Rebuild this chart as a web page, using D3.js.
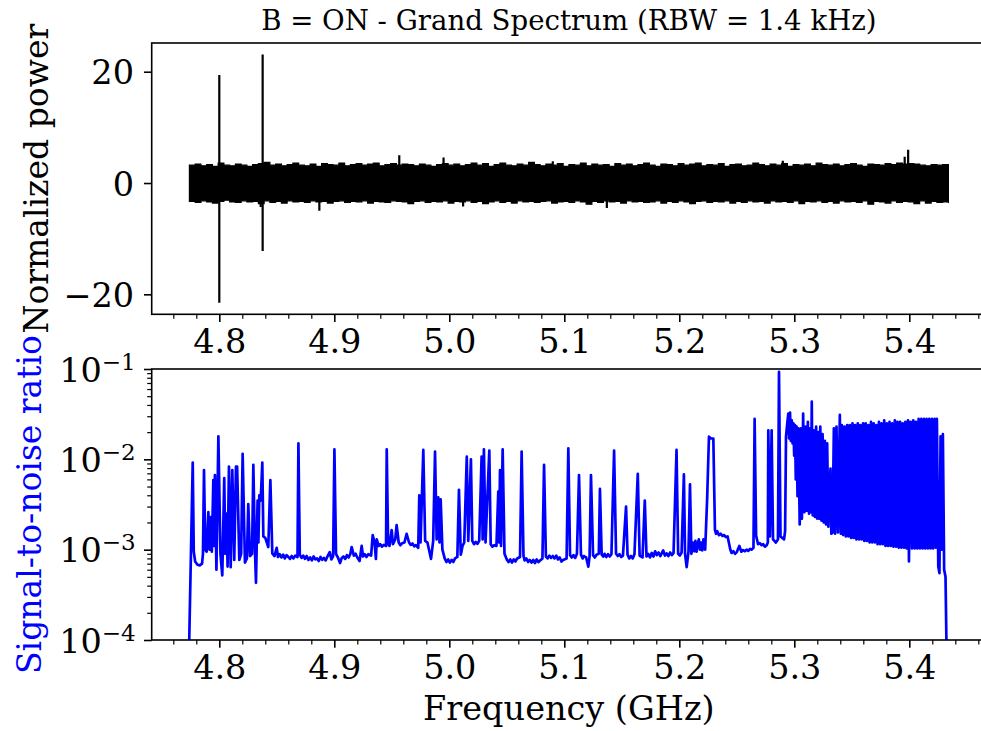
<!DOCTYPE html>
<html><head><meta charset="utf-8">
<script src="https://cdn.jsdelivr.net/npm/d3@7/dist/d3.min.js"></script>
<style>
body{margin:0;background:#fff;}
svg{display:block;font-family:"DejaVu Serif",serif;}
</style></head><body>
<svg id="chart" width="981" height="731"></svg>
<script>
// ---------- DATA ----------
const titleText = "B = ON - Grand Spectrum (RBW = 1.4 kHz)";
const xTicks = [4.8, 4.9, 5.0, 5.1, 5.2, 5.3, 5.4];
const xTickLabels = ["4.8", "4.9", "5.0", "5.1", "5.2", "5.3", "5.4"];
const xMinorTicks = [4.76,4.78,4.82,4.84,4.86,4.88,4.92,4.94,4.96,4.98,5.02,5.04,5.06,5.08,5.12,5.14,5.16,5.18,5.22,5.24,5.26,5.28,5.32,5.34,5.36,5.38,5.42,5.44,5.46];
const powerTicks = [-20, 0, 20];
const powerTickLabels = ["−20", "0", "20"];
const snrTicks = [1e-4, 1e-3, 1e-2, 1e-1];
const snrTickExp = ["−4", "−3", "−2", "−1"];

// top panel: noise band envelope (upper / lower) every 5 MHz from 4.774 GHz
const noiseStart = 4.774, noiseStep = 0.005;
const noiseUpper = [3.2,3.4,3.1,3.3,3.0,3.6,3.2,3.1,3.4,3.2,
  3.0,3.3,3.5,3.7,3.2,3.4,3.1,3.3,3.6,3.2,
  3.1,3.4,3.0,3.5,3.3,3.2,3.6,3.1,3.3,3.5,
  3.2,3.4,3.6,3.1,3.3,3.5,3.2,3.4,3.3,3.1,
  3.4,3.2,3.0,3.3,3.5,3.2,3.4,3.1,3.3,3.6,
  3.2,3.5,3.0,3.3,3.6,3.2,3.1,3.4,3.2,3.7,
  3.3,3.1,3.4,3.2,3.5,3.0,3.3,3.2,3.6,3.1,
  3.4,3.2,3.3,3.0,3.5,3.2,3.4,3.1,3.3,3.6,
  3.2,3.0,3.4,3.3,3.1,3.5,3.2,3.4,3.6,3.1,
  3.3,3.2,3.5,3.0,3.3,3.4,3.1,3.2,3.6,3.3,
  3.1,3.4,3.2,3.5,3.0,3.3,3.2,3.4,3.1,3.6,
  3.3,3.2,3.4,3.1,3.3,3.5,3.2,3.0,3.4,3.3,
  3.2,3.5,3.3,3.6,3.4,3.5,3.4,3.2,3.1,3.3,
  3.2,3.3,3.1];
const noiseLower = [-3.3,-3.5,-3.2,-3.4,-3.6,-3.3,-3.1,-3.4,-3.5,-3.2,
  -3.4,-3.3,-3.7,-3.2,-3.5,-3.3,-3.6,-3.2,-3.4,-3.3,
  -3.5,-3.2,-3.4,-3.3,-3.6,-3.3,-3.2,-3.5,-3.3,-3.4,
  -3.2,-3.6,-3.3,-3.4,-3.5,-3.2,-3.3,-3.4,-3.7,-3.3,
  -3.2,-3.5,-3.3,-3.4,-3.2,-3.6,-3.3,-3.4,-3.2,-3.5,
  -3.3,-3.7,-3.4,-3.2,-3.5,-3.3,-3.6,-3.2,-3.4,-3.3,
  -3.5,-3.3,-3.2,-3.6,-3.4,-3.3,-3.5,-3.2,-3.4,-3.8,
  -3.3,-3.5,-3.2,-3.4,-3.3,-3.6,-3.2,-3.4,-3.3,-3.5,
  -3.4,-3.2,-3.6,-3.3,-3.5,-3.2,-3.4,-3.7,-3.3,-3.2,
  -3.5,-3.3,-3.4,-3.2,-3.6,-3.3,-3.5,-3.2,-3.4,-3.3,
  -3.6,-3.2,-3.4,-3.3,-3.5,-3.2,-3.7,-3.3,-3.4,-3.2,
  -3.5,-3.3,-3.6,-3.2,-3.4,-3.3,-3.5,-3.2,-3.8,-3.3,
  -3.4,-3.6,-3.2,-3.5,-3.3,-3.4,-3.7,-3.2,-3.6,-3.3,
  -3.5,-3.4,-3.6];
// isolated spikes in the top panel
const spikeFreq = [4.8000, 4.8377, 4.9565, 4.9950, 5.3960, 5.3990, 4.8870, 5.1370, 5.0120, 4.8360, 5.0900, 5.2900];
const spikeHi   = [19.4,   23.1,   5.0,    4.6,    4.7,    6.0,    0,      0,      0,      0,      3.9,    4.0];
const spikeLo   = [-21.5, -12.2,   0,      0,      0,      0,     -5.0,   -4.5,   -4.2,   -4.3,    0,      0];

// bottom panel: signal-to-noise ratio
const snrLow = [
 [4.7734,5e-5],[4.7769,9.2e-3],[4.7778,9.5e-4],[4.7790,7.4e-4],[4.7810,6.8e-4],[4.7830,6.7e-4],[4.7850,7.0e-4],
 [4.7858,9.0e-4],[4.7867,7.6e-3],[4.7878,1.0e-3],[4.7890,9.5e-4],[4.7905,2.6e-3],[4.7915,1.0e-3],[4.7925,2.3e-3],
 [4.7935,9.5e-4],[4.7948,5.9e-3],[4.7955,1.1e-3],[4.7962,6.7e-3],[4.7975,6.0e-4],[4.7992,1.8e-2],[4.8010,9.0e-4],
 [4.8026,5.2e-4],[4.8043,6.2e-3],[4.8052,9.0e-4],[4.8064,2.5e-3],[4.8072,6.5e-4],[4.8084,8.3e-3],[4.8099,6.4e-4],
 [4.8113,7.6e-3],[4.8130,7.7e-4],[4.8145,8.3e-3],[4.8155,8.3e-3],[4.8174,7.7e-4],[4.8190,9.0e-4],[4.8203,1.15e-2],
 [4.8223,7.2e-4],[4.8240,8.0e-4],[4.8252,3.2e-3],[4.8267,8.5e-4],[4.8285,9.0e-4],[4.8296,8.7e-3],[4.8310,1.0e-3],
 [4.8319,4.3e-4],[4.8333,3.5e-3],[4.8340,1.2e-3],[4.8348,4.0e-3],[4.8360,3.5e-3],[4.8374,9.2e-3],[4.8383,1.4e-3],
 [4.8400,1.35e-3],[4.8426,1.07e-3],[4.8444,5.9e-3],[4.8461,9.1e-4],[4.8480,8.5e-4],[4.8499,1.05e-3],[4.8510,8.3e-4],
 [4.8525,8.9e-4],[4.8540,8.2e-4],[4.8555,8.8e-4],[4.8570,8.0e-4],[4.8585,8.7e-4],[4.8600,8.3e-4],[4.8615,7.9e-4],
 [4.8630,8.5e-4],[4.8645,8.0e-4],[4.8660,8.6e-4],[4.8680,8.3e-4],[4.8688,1.5e-2],
 [4.8700,8.8e-4],[4.8715,8.1e-4],[4.8730,8.6e-4],[4.8745,7.9e-4],[4.8760,8.5e-4],[4.8775,7.7e-4],[4.8790,8.2e-4],
 [4.8805,7.6e-4],[4.8820,8.4e-4],[4.8835,7.8e-4],[4.8850,8.0e-4],[4.8865,7.5e-4],[4.8880,8.3e-4],[4.8895,7.7e-4],
 [4.8910,8.1e-4],[4.8925,7.6e-4],[4.8940,8.4e-4],[4.8960,9.4e-4],[4.8975,7.8e-4],[4.8990,8.5e-4],[4.9001,1.29e-2],[4.9015,9.0e-4],
 [4.9035,8.0e-4],[4.9050,7.1e-4],[4.9065,8.1e-4],[4.9080,8.4e-4],[4.9095,7.9e-4],[4.9110,8.7e-4],[4.9125,8.2e-4],[4.9140,9.0e-4],
 [4.9151,1.07e-3],[4.9170,8.6e-4],[4.9185,9.0e-4],[4.9200,8.2e-4],[4.9220,7.5e-4],[4.9238,1.1e-3],[4.9250,8.4e-4],[4.9265,8.9e-4],
 [4.9280,8.3e-4],[4.9295,8.9e-4],[4.9320,8.6e-4],[4.9334,1.45e-3],[4.9350,1.2e-3],
 [4.9362,7.9e-4],[4.9369,1.3e-3],[4.9385,1.1e-3],[4.9400,1.15e-3],[4.9415,1.08e-3],[4.9430,1.13e-3],[4.9450,1.1e-3],[4.9456,1.29e-2],[4.9468,1.15e-3],
 [4.9480,1.1e-3],[4.9499,1.65e-3],[4.9510,1.15e-3],[4.9530,1.3e-3],[4.9542,1.87e-3],[4.9560,1.2e-3],[4.9575,1.12e-3],[4.9590,1.18e-3],
 [4.9610,1.2e-3],[4.9629,1.5e-3],[4.9650,1.2e-3],[4.9665,1.13e-3],[4.9680,1.17e-3],[4.9695,1.09e-3],[4.9710,1.12e-3],[4.9730,1.05e-3],[4.9739,4.0e-3],
 [4.9750,1.2e-3],[4.9774,1.27e-2],[4.9790,1.25e-3],[4.9810,1.2e-3],[4.9841,7.9e-4],[4.9860,1.25e-3],[4.9876,1.22e-2],
 [4.9890,1.3e-3],[4.9904,3.8e-3],[4.9915,1.2e-3],[4.9925,3.6e-3],[4.9940,1.0e-3],[4.9960,8.0e-4],[4.9975,7.3e-4],[4.9990,7.8e-4],
 [5.0005,7.2e-4],[5.0020,7.7e-4],[5.0035,7.3e-4],[5.0050,8.0e-4],[5.0070,8.3e-4],[5.0084,4.6e-3],[5.0100,8.8e-4],[5.0115,1.1e-3],[5.0130,1.2e-3],[5.0152,1.07e-2],
 [5.0165,1.25e-3],[5.0188,1.0e-2],[5.0200,1.25e-3],[5.0215,1.15e-3],[5.0230,1.22e-3],[5.0245,1.16e-3],[5.0260,1.25e-3],[5.0281,1.07e-2],[5.0290,1.3e-3],
 [5.0301,1.29e-2],[5.0315,1.2e-3],[5.0348,1.25e-2],[5.0360,1.15e-3],[5.0375,1.08e-3],[5.0390,1.12e-3],[5.0410,1.1e-3],[5.0426,4.4e-3],
 [5.0433,1.2e-3],[5.0441,7.6e-3],[5.0450,1.1e-3],[5.0464,1.29e-2],[5.0480,9.0e-4],[5.0500,7.8e-4],[5.0515,7.3e-4],[5.0530,7.8e-4],
 [5.0545,7.2e-4],[5.0560,7.8e-4],[5.0575,7.4e-4],[5.0590,8.0e-4],[5.0615,8.3e-4],[5.0629,1.22e-2],[5.0645,8.6e-4],[5.0655,7.6e-4],[5.0670,8.0e-4],[5.0685,7.3e-4],[5.0700,7.7e-4],
 [5.0715,7.2e-4],[5.0730,7.7e-4],[5.0745,7.1e-4],[5.0760,7.8e-4],[5.0775,7.3e-4],[5.0790,7.6e-4],[5.0810,8.0e-4],[5.0824,8.7e-3],[5.0840,8.4e-4],[5.0855,8.0e-4],[5.0870,8.6e-4],
 [5.0885,8.1e-4],[5.0900,8.5e-4],[5.0915,8.0e-4],[5.0930,8.6e-4],[5.0945,7.8e-4],[5.0960,8.2e-4],[5.0975,7.4e-4],[5.0990,7.7e-4],[5.1020,8.0e-4],[5.1035,1.32e-2],[5.1050,8.7e-4],
 [5.1065,8.2e-4],[5.1080,8.7e-4],[5.1095,8.1e-4],[5.1110,9.0e-4],[5.1128,6.7e-3],[5.1145,8.8e-4],[5.1160,8.0e-4],[5.1170,8.5e-4],[5.1190,8.2e-4],[5.1209,6.5e-4],
 [5.1220,8.5e-4],[5.1232,6.7e-3],[5.1250,8.7e-4],[5.1265,8.2e-4],[5.1280,8.8e-4],[5.1300,9.0e-4],[5.1310,4.7e-3],[5.1325,8.8e-4],
 [5.1340,8.4e-4],[5.1350,9.0e-4],[5.1365,8.3e-4],[5.1380,8.9e-4],[5.1395,8.4e-4],[5.1410,8.9e-4],[5.1433,1.25e-2],[5.1450,9.0e-4],[5.1465,8.5e-4],[5.1480,8.9e-4],[5.1495,8.3e-4],[5.1510,8.6e-4],
 [5.1537,3.0e-3],[5.1550,8.8e-4],[5.1565,8.0e-4],[5.1580,8.5e-4],[5.1595,8.0e-4],[5.1610,8.9e-4],[5.1639,6.9e-3],[5.1655,8.6e-4],[5.1680,8.2e-4],
 [5.1700,3.5e-3],[5.1715,8.4e-4],[5.1730,9.0e-4],[5.1745,8.2e-4],[5.1760,9.2e-4],[5.1775,8.4e-4],[5.1790,9.6e-4],[5.1805,8.7e-4],[5.1820,9.3e-4],[5.1835,8.5e-4],[5.1860,9.8e-4],
 [5.1875,8.6e-4],[5.1890,9.1e-4],[5.1905,8.5e-4],[5.1920,9.3e-4],[5.1935,8.7e-4],[5.1950,9.2e-4],[5.1976,1.27e-2],[5.1990,9.0e-4],[5.2005,8.6e-4],[5.2020,9.3e-4],[5.2040,6.8e-3],
 [5.2050,9.0e-4],[5.2064,6.4e-4],[5.2080,9.5e-4],[5.2093,5.3e-3],[5.2105,9.0e-4],[5.2118,1.2e-3],[5.2130,9.6e-4],[5.2140,1.25e-3],[5.2150,9.5e-4],
 [5.2160,1.15e-3],[5.2170,1.3e-3],[5.2180,1.0e-3],[5.2190,1.2e-3],[5.2200,9.8e-4],[5.2210,1.3e-3],[5.2225,1.0e-3],[5.2242,3.6e-3],[5.2258,1.78e-2],[5.2275,1.7e-2],
 [5.2296,1.7e-2],[5.2310,1.65e-3],[5.2320,1.5e-3],[5.2330,1.6e-3],[5.2345,1.45e-3],[5.2360,1.5e-3],[5.2375,1.42e-3],[5.2390,1.45e-3],[5.2405,1.38e-3],[5.2420,1.4e-3],[5.2444,1.0e-3],
 [5.2455,9.2e-4],[5.2470,9.6e-4],[5.2485,9.0e-4],[5.2500,9.4e-4],[5.2522,1.1e-3],[5.2540,9.5e-4],[5.2555,9.9e-4],[5.2570,9.6e-4],[5.2585,1.0e-3],[5.2600,9.7e-4],[5.2615,1.02e-3],[5.2630,1.0e-3],
 [5.2645,1.05e-3],[5.2655,2.8e-2],[5.2668,1.43e-3],[5.2685,1.15e-3],[5.2700,1.18e-3],[5.2715,1.12e-3],[5.2730,1.15e-3],[5.2745,1.08e-3],[5.2760,1.12e-3],[5.2770,1.2e-3],
 [5.2774,2.1e-2],[5.2788,1.4e-3],[5.2803,2.1e-2],[5.2815,1.3e-3],[5.2840,1.2e-3],[5.2858,1.3e-3],[5.2867,9.3e-2],
 [5.2880,1.4e-3],[5.2911,1.3e-3],[5.2920,1.6e-3]
];
const snrHump = [
 [5.2928,1.8e-2],[5.2940,2.6e-2],[5.2948,3.2e-2],[5.2955,1.7e-2],[5.2963,3.3e-2],[5.2970,1.6e-2],[5.2978,2.7e-2],
 [5.2985,1.5e-2],[5.2992,2.5e-2],[5.2999,1.1e-2],[5.3006,2.4e-2],[5.3013,6.0e-3],[5.3020,2.3e-2],[5.3028,3.9e-3],
 [5.3036,2.2e-2],[5.3047,1.9e-3],[5.3058,2.2e-2],[5.3066,2.2e-3],[5.3077,3.2e-2],[5.3088,2.6e-3],[5.3098,2.3e-2],
 [5.3108,2.7e-3],[5.3118,2.6e-2],[5.3128,2.5e-3],[5.3138,2.2e-2],[5.3145,2.6e-3],[5.3152,4.35e-2],[5.3160,2.4e-3],
 [5.3170,2.1e-2],[5.3180,2.3e-3],[5.3190,2.3e-2],[5.3200,2.2e-3],[5.3210,2.0e-2],[5.3218,2.2e-3],[5.3226,2.3e-2],
 [5.3236,2.1e-3],[5.3246,1.9e-2],[5.3256,2.0e-3],[5.3266,1.6e-2],[5.3276,1.9e-3],[5.3286,1.5e-2],[5.3296,1.8e-3],
 [5.3305,5.0e-3],[5.3315,7.9e-3],[5.3322,1.5e-3],[5.3333,1.55e-3]
];
const snrComb = [
 [5.3344,2.2e-2],[5.3355,1.5e-3],[5.3367,2.3e-2],[5.3380,1.55e-3],[5.3396,3.1e-2],[5.3405,1.5e-3],[5.3414,2.4e-2],
 [5.3425,1.45e-3],[5.3437,2.3e-2],[5.3448,1.4e-3],[5.3460,2.4e-2],[5.3471,1.4e-3],[5.3483,2.4e-2],[5.3494,1.35e-3],
 [5.3506,2.5e-2],[5.3517,1.35e-3],[5.3529,2.4e-2],[5.3540,1.3e-3],[5.3552,2.5e-2],[5.3563,1.3e-3],[5.3575,2.4e-2],
 [5.3586,1.3e-3],[5.3598,2.5e-2],[5.3609,1.25e-3],[5.3621,2.5e-2],[5.3632,1.25e-3],[5.3644,2.4e-2],[5.3655,1.2e-3],
 [5.3667,2.6e-2],[5.3678,1.2e-3],[5.3690,2.5e-2],[5.3701,1.2e-3],[5.3713,2.4e-2],[5.3724,1.15e-3],[5.3736,2.6e-2],
 [5.3747,1.15e-3],[5.3759,2.5e-2],[5.3770,1.15e-3],[5.3782,2.7e-2],[5.3793,1.1e-3],[5.3805,2.5e-2],[5.3816,1.1e-3],
 [5.3828,2.6e-2],[5.3839,1.1e-3],[5.3851,2.5e-2],[5.3862,1.08e-3],[5.3874,2.7e-2],[5.3885,1.08e-3],[5.3897,2.6e-2],
 [5.3908,1.05e-3],[5.3920,2.6e-2],[5.3931,1.05e-3],[5.3943,2.5e-2],[5.3954,1.05e-3],[5.3966,2.6e-2],[5.3977,1.03e-3],
 [5.3989,2.7e-2],[5.3997,7.4e-4],[5.4012,2.6e-2],[5.4023,1.03e-3],[5.4035,2.7e-2],[5.4046,1.03e-3],[5.4058,2.6e-2],
 [5.4069,1.03e-3],[5.4081,2.8e-2],[5.4092,1.03e-3],[5.4104,2.8e-2],[5.4115,1.03e-3],[5.4127,2.8e-2],[5.4138,1.03e-3],
 [5.4150,2.8e-2],[5.4161,1.03e-3],[5.4173,2.8e-2],[5.4184,1.03e-3],[5.4196,2.8e-2],[5.4207,1.03e-3],[5.4219,2.8e-2],
 [5.4230,1.05e-3],[5.4240,2.8e-2],[5.4252,6.5e-4],[5.4262,5.5e-4],[5.4272,1.8e-2],[5.4280,1.0e-3],[5.4292,1.9e-2],
 [5.4303,6.0e-4],[5.4315,5.0e-4],[5.4326,5e-5]
];

// ---------- LAYOUT ----------
const svg = d3.select("#chart");
const L = 151.7, R = 986;
const topP = {t: 43, b: 314.3};
const botP = {t: 369, b: 640};
const tickFont = 33.5, labelFont = 33, supFont = 23;

const x = d3.scaleLinear().domain([4.74122, 5.4667]).range([L, R]);
const yTop = d3.scaleLinear().domain([-23.59, 25.16]).range([topP.b, topP.t]);
const yBot = d3.scaleLog().domain([1e-4, 1e-1]).range([botP.b, botP.t]);

const defs = svg.append("defs");
defs.append("clipPath").attr("id", "clipTop").append("rect")
  .attr("x", L).attr("y", topP.t).attr("width", R - L).attr("height", topP.b - topP.t);
defs.append("clipPath").attr("id", "clipBot").append("rect")
  .attr("x", L).attr("y", botP.t).attr("width", R - L).attr("height", botP.b - botP.t);

// ---------- TOP PANEL ----------
const gTop = svg.append("g").attr("clip-path", "url(#clipTop)");
const band = noiseUpper.map((u, i) => ({f: noiseStart + i * noiseStep, hi: u, lo: noiseLower[i]}));
gTop.append("path").datum(band)
  .attr("d", d3.area().x(d => x(d.f)).y0(d => yTop(d.lo)).y1(d => yTop(d.hi)).curve(d3.curveStepAfter))
  .attr("fill", "#000").attr("stroke", "#000").attr("stroke-width", 1.2);
gTop.selectAll("line.spike").data(spikeFreq).join("line")
  .attr("x1", d => x(d)).attr("x2", d => x(d))
  .attr("y1", (d, i) => yTop(spikeLo[i])).attr("y2", (d, i) => yTop(spikeHi[i]))
  .attr("stroke", "#000").attr("stroke-width", 2.2);

// ---------- BOTTOM PANEL ----------
const gBot = svg.append("g").attr("clip-path", "url(#clipBot)");
const snrAll = snrLow.concat(snrHump, snrComb);
gBot.append("path").datum(snrAll)
  .attr("d", d3.line().x(d => x(d[0])).y(d => yBot(d[1])))
  .attr("fill", "none").attr("stroke", "#0000ff").attr("stroke-width", 2.7)
  .attr("stroke-linejoin", "round");

// ---------- AXES ----------
function styleAxis(g) {
  g.select(".domain").remove();
  g.selectAll(".tick line").attr("stroke", "#000").attr("stroke-width", 1.6);
  g.selectAll(".tick text").attr("fill", "#000").attr("font-family", "DejaVu Serif")
    .attr("font-size", tickFont);
}
function xAxes(yPos) {
  const gMin = svg.append("g").attr("transform", `translate(0,${yPos})`)
    .call(d3.axisBottom(x).tickValues(xMinorTicks).tickSize(4.5).tickFormat(""));
  styleAxis(gMin);
  gMin.selectAll(".tick line").attr("stroke-width", 1.2);
  const gMaj = svg.append("g").attr("transform", `translate(0,${yPos})`)
    .call(d3.axisBottom(x).tickValues(xTicks).tickSize(7.7).tickPadding(6)
      .tickFormat((d, i) => xTickLabels[i]));
  styleAxis(gMaj);
  gMaj.selectAll(".tick text").attr("dy", null).attr("y", 39);
}
xAxes(topP.b);
xAxes(botP.b);

const gYT = svg.append("g").attr("transform", `translate(${L},0)`)
  .call(d3.axisLeft(yTop).tickValues(powerTicks).tickSize(7.7).tickPadding(10)
    .tickFormat((d, i) => powerTickLabels[i]));
styleAxis(gYT);
gYT.selectAll(".tick text").attr("dy", "0.36em");

const minorLog = [];
[1e-4, 1e-3, 1e-2].forEach(dec => { for (let k = 2; k <= 9; k++) minorLog.push(dec * k); });
const gYBm = svg.append("g").attr("transform", `translate(${L},0)`)
  .call(d3.axisLeft(yBot).tickValues(minorLog).tickSize(4.5).tickFormat(""));
styleAxis(gYBm);
gYBm.selectAll(".tick line").attr("stroke-width", 1.2);
const gYB = svg.append("g").attr("transform", `translate(${L},0)`)
  .call(d3.axisLeft(yBot).tickValues(snrTicks).tickSize(7.7).tickFormat(""));
styleAxis(gYB);
gYB.selectAll(".tick").each(function(d, i) {
  const t = d3.select(this).append("text")
    .attr("x", -16).attr("y", 12).attr("text-anchor", "end")
    .attr("font-family", "DejaVu Serif").attr("fill", "#000").attr("font-size", tickFont);
  t.append("tspan").text("10");
  t.append("tspan").attr("font-size", supFont).attr("dy", -12).text(snrTickExp[i]);
});

// frames (spines)
[topP, botP].forEach(p => {
  svg.append("rect").attr("x", L).attr("y", p.t).attr("width", R - L).attr("height", p.b - p.t)
    .attr("fill", "none").attr("stroke", "#000").attr("stroke-width", 1.6);
});

// ---------- TEXT ----------
svg.append("text").attr("x", (L + R) / 2).attr("y", 30).attr("text-anchor", "middle")
  .attr("font-size", 27.6).attr("fill", "#000").text(titleText);
svg.append("text").attr("transform", `translate(48,${(topP.t + topP.b) / 2}) rotate(-90)`)
  .attr("text-anchor", "middle").attr("font-size", labelFont).attr("fill", "#000")
  .text("Normalized power");
svg.append("text").attr("transform", `translate(41,${(botP.t + botP.b) / 2}) rotate(-90)`)
  .attr("text-anchor", "middle").attr("font-size", labelFont).attr("fill", "#0000ff")
  .text("Signal-to-noise ratio");
svg.append("text").attr("x", (L + R) / 2).attr("y", 720).attr("text-anchor", "middle")
  .attr("font-size", 33.5).attr("fill", "#000").text("Frequency (GHz)");
</script>
</body></html>
